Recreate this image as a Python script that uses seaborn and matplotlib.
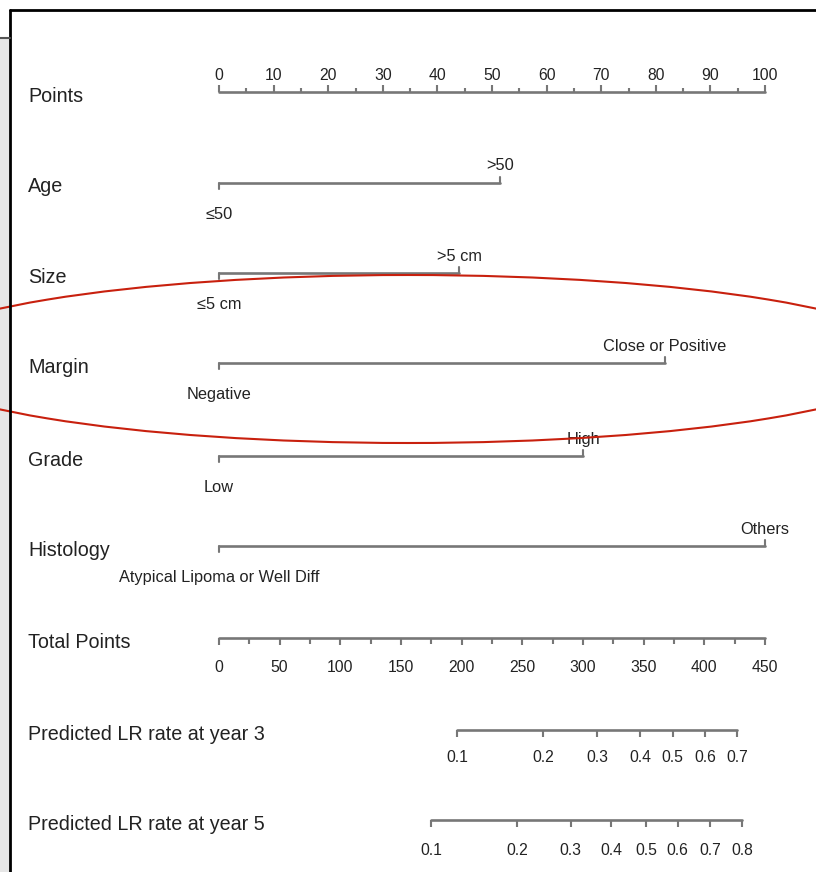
import matplotlib
matplotlib.use("Agg")
import numpy as np
import pandas as pd
import matplotlib.pyplot as plt
import seaborn as sns
from matplotlib.patches import Ellipse, Rectangle
from matplotlib.lines import Line2D

sns.set_theme(style="white")
plt.rcParams['font.family'] = ['Liberation Sans', 'DejaVu Sans']

points_ticks = list(range(0, 101, 10))
points_minor = list(range(5, 100, 10))

variables = ["Age", "Size", "Margin", "Grade", "Histology"]
levels = {
    "Age": ["\u226450", ">50"],
    "Size": ["\u22645 cm", ">5 cm"],
    "Margin": ["Negative", "Close or Positive"],
    "Grade": ["Low", "High"],
    "Histology": ["Atypical Lipoma or Well Diff", "Others"],
}
level_points = {
    "Age": [0, 51.5],
    "Size": [0, 44],
    "Margin": [0, 81.7],
    "Grade": [0, 66.7],
    "Histology": [0, 100],
}

total_ticks = list(range(0, 451, 50))
total_minor = list(range(25, 450, 50))

year3_probs = [0.1, 0.2, 0.3, 0.4, 0.5, 0.6, 0.7]
year3_total = [196, 267, 311.5, 347, 374, 400.5, 427]
year5_probs = [0.1, 0.2, 0.3, 0.4, 0.5, 0.6, 0.7, 0.8]
year5_total = [174.7, 245.6, 290, 323, 352, 378, 404.7, 431]

# Layout (linhas em pixels verticais)
W, H = 816, 872
x0_px, x100_px = 219, 765
px_per_pt = (x100_px - x0_px) / 100
row_y = {"Points": 92, "Age": 183, "Size": 273, "Margin": 363, "Grade": 456,
         "Histology": 546, "Total Points": 638,
         "Predicted LR rate at year 3": 730, "Predicted LR rate at year 5": 820}

line_col = "#777777"
txt_col = "#222222"
lw = 1.9
row_fs = 14.2
lev_fs = 11.8
tick_fs = 11.3

fig = plt.figure(figsize=(W / 100, H / 100), dpi=100)
ax = fig.add_axes([0, 0, 1, 1])
ax.set_xlim(-x0_px / px_per_pt, (W - x0_px) / px_per_pt)
ax.set_ylim(H, 0)
ax.axis("off")

def tot2pt(v):
    return np.asarray(v, dtype=float) * 100 / 450

def draw_scale(y, pos, labels, minor=None, up=True, label_off=17, tick=7, minor_frac=0.55):
    pos = np.asarray(pos, dtype=float)
    df = pd.DataFrame({"x": [pos.min(), pos.max()], "y": [y, y]})
    sns.lineplot(data=df, x="x", y="y", ax=ax, color=line_col, lw=lw, legend=False)
    d = -tick if up else tick
    for p in pos:
        ax.plot([p, p], [y, y + d], color=line_col, lw=lw * 0.8, solid_capstyle="butt")
    if minor is not None:
        for p in minor:
            ax.plot([p, p], [y, y + d * minor_frac], color=line_col, lw=lw * 0.8,
                    solid_capstyle="butt")
    off = -label_off if up else label_off
    for p, lab in zip(pos, labels):
        ax.text(p, y + off, lab, ha="center", va="center", fontsize=tick_fs, color=txt_col)

lab_tr = ax.get_yaxis_transform()
for name, y in row_y.items():
    ax.text(28 / W, y + 4, name, transform=lab_tr, ha="left", va="center",
            fontsize=row_fs, color=txt_col)

# Points
draw_scale(row_y["Points"], points_ticks, [str(t) for t in points_ticks],
           minor=points_minor, up=True, label_off=17)

# Variáveis categóricas
for var in variables:
    y = row_y[var]
    p = level_points[var]
    labs = levels[var]
    df = pd.DataFrame({"x": p, "y": [y, y]})
    sns.lineplot(data=df, x="x", y="y", ax=ax, color=line_col, lw=lw, legend=False)
    ax.plot([p[0], p[0]], [y, y + 6], color=line_col, lw=lw * 0.8)
    ax.plot([p[1], p[1]], [y, y - 6], color=line_col, lw=lw * 0.8)
    ax.text(p[0], y + 31, labs[0], ha="center", va="center", fontsize=lev_fs, color=txt_col)
    ax.text(p[1], y - 17, labs[1], ha="center", va="center", fontsize=lev_fs, color=txt_col)

# Total Points
draw_scale(row_y["Total Points"], tot2pt(total_ticks), [str(t) for t in total_ticks],
           minor=tot2pt(total_minor), up=False, label_off=29, minor_frac=0.9)
# Predicted
draw_scale(row_y["Predicted LR rate at year 3"], tot2pt(year3_total),
           [f"{v:.1f}" for v in year3_probs], up=False, label_off=27)
draw_scale(row_y["Predicted LR rate at year 5"], tot2pt(year5_total),
           [f"{v:.1f}" for v in year5_probs], up=False, label_off=30)

# Moldura da captura de tela
fig.patches.append(Rectangle((0, 0), 10 / W, 1 - 38 / H, transform=fig.transFigure,
                             facecolor="#e6e6e6", edgecolor="none"))
fig.lines.append(Line2D([10 / W, 1], [1 - 10 / H, 1 - 10 / H], transform=fig.transFigure,
                        color="black", lw=2))
fig.lines.append(Line2D([10 / W, 10 / W], [0, 1 - 10 / H], transform=fig.transFigure,
                        color="black", lw=2))
fig.lines.append(Line2D([0, 10 / W], [1 - 38 / H, 1 - 38 / H], transform=fig.transFigure,
                        color="#555555", lw=1.5))

# Elipse vermelha de destaque
fig.patches.append(Ellipse((408 / W, 1 - 359 / H), 2 * 510 / W, 2 * 84 / H,
                           transform=fig.transFigure, fill=False,
                           edgecolor="#c8200e", lw=1.5))

fig.savefig("out.png", dpi=100)
